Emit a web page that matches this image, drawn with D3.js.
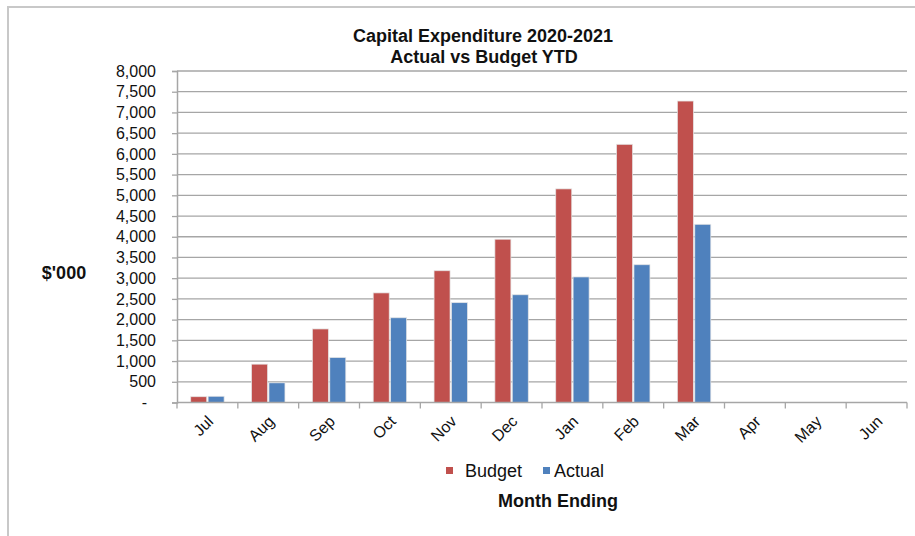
<!DOCTYPE html>
<html>
<head>
<meta charset="utf-8">
<script src="https://d3js.org/d3.v7.min.js"></script>
<style>
  body { margin: 0; background: #fff; }
  text { font-family: "Liberation Sans", Arial, sans-serif; fill: #111; }
</style>
</head>
<body>
<script>
// chart data ($'000 YTD)
var months = ["Jul", "Aug", "Sep", "Oct", "Nov", "Dec", "Jan", "Feb", "Mar", "Apr", "May", "Jun"];
var budget = [140, 925, 1775, 2645, 3180, 3940, 5155, 6230, 7275, null, null, null];
var actual = [150, 475, 1085, 2045, 2410, 2600, 3030, 3325, 4300, null, null, null];
var seriesNames = ["Budget", "Actual"];
var seriesColors = ["#C0504D", "#4F81BD"];
var yTicks = d3.range(0, 8001, 500);

var width = 915, height = 536;
var plotLeft = 177, plotRight = 907, plotTop = 71, plotBottom = 402.5;

var svg = d3.select("body").append("svg")
    .attr("width", width)
    .attr("height", height);

// outer frame
svg.append("rect")
    .attr("x", 8).attr("y", 7)
    .attr("width", 920).attr("height", 540)
    .attr("fill", "none")
    .attr("stroke", "#c8c8c8")
    .attr("stroke-width", 2);

var x = d3.scaleBand().domain(months).range([plotLeft, plotRight]).padding(0);
var cw = x.bandwidth();
var x1 = d3.scaleBand().domain(seriesNames)
    .range([cw / 2 - 16.7, cw / 2 + 16.7])
    .paddingInner(0.08);
var y = d3.scaleLinear().domain([0, 8000]).range([plotBottom, plotTop]);

// gridlines
svg.append("g").selectAll("line")
    .data(yTicks.filter(function (d) { return d > 0; }))
    .enter().append("line")
    .attr("x1", plotLeft).attr("x2", plotRight)
    .attr("y1", function (d) { return y(d); })
    .attr("y2", function (d) { return y(d); })
    .attr("stroke", "#a6a6a6")
    .attr("stroke-width", 1.3);

// y axis
var yAxis = d3.axisLeft(y)
    .tickValues(yTicks)
    .tickSize(5)
    .tickPadding(16)
    .tickFormat(function (d) { return d === 0 ? "-" : d3.format(",")(d); });
var gy = svg.append("g").attr("transform", "translate(" + plotLeft + ",0)").call(yAxis);
gy.select(".domain").attr("stroke", "#a6a6a6").attr("stroke-width", 1.5);
gy.selectAll(".tick line").attr("stroke", "#a6a6a6").attr("stroke-width", 1.3);
gy.selectAll(".tick text")
    .style("font-family", "Liberation Sans, Arial, sans-serif")
    .style("font-size", "16px")
    .attr("fill", "#222")
    .attr("dx", function (d) { return d === 0 ? -9 : 0; });

// bars
var rows = months.map(function (m, i) { return { month: m, vals: [budget[i], actual[i]] }; });
var groups = svg.append("g").selectAll("g")
    .data(rows)
    .enter().append("g")
    .attr("transform", function (d) { return "translate(" + x(d.month) + ",0)"; });

groups.selectAll("rect")
    .data(function (d) {
      return d.vals.map(function (v, k) { return { key: seriesNames[k], value: v, k: k }; })
        .filter(function (e) { return e.value != null; });
    })
    .enter().append("rect")
    .attr("x", function (d) { return x1(d.key); })
    .attr("width", x1.bandwidth())
    .attr("y", function (d) { return y(d.value); })
    .attr("height", function (d) { return y(0) - y(d.value); })
    .attr("fill", function (d) { return seriesColors[d.k]; })
    .attr("stroke", "rgba(230,230,230,0.9)")
    .attr("stroke-width", 0.8);

// x axis with ticks at category edges
var gx = svg.append("g").attr("transform", "translate(0," + plotBottom + ")");
gx.append("line")
    .attr("x1", plotLeft).attr("x2", plotRight)
    .attr("stroke", "#a6a6a6").attr("stroke-width", 1.5);
gx.selectAll(".edge")
    .data(d3.range(months.length + 1))
    .enter().append("line")
    .attr("class", "edge")
    .attr("x1", function (i) { return plotLeft + i * cw; })
    .attr("x2", function (i) { return plotLeft + i * cw; })
    .attr("y1", 0).attr("y2", 6)
    .attr("stroke", "#a6a6a6").attr("stroke-width", 1.3);
gx.selectAll(".lbl")
    .data(months)
    .enter().append("text")
    .attr("class", "lbl")
    .attr("text-anchor", "end")
    .attr("transform", function (d) {
      return "translate(" + (x(d) + cw / 2 - 1) + ",12) rotate(-45)";
    })
    .attr("dy", "0.7em")
    .style("font-size", "16px")
    .text(function (d) { return d; });

// titles
svg.append("text")
    .attr("x", 483).attr("y", 42)
    .attr("text-anchor", "middle")
    .style("font-size", "18px").style("font-weight", "bold")
    .text("Capital Expenditure 2020-2021");
svg.append("text")
    .attr("x", 484).attr("y", 63)
    .attr("text-anchor", "middle")
    .style("font-size", "18px").style("font-weight", "bold")
    .text("Actual vs Budget YTD");

svg.append("text")
    .attr("x", 64).attr("y", 279)
    .attr("text-anchor", "middle")
    .style("font-size", "18px").style("font-weight", "bold")
    .text("$'000");

svg.append("text")
    .attr("x", 558).attr("y", 507)
    .attr("text-anchor", "middle")
    .style("font-size", "18px").style("font-weight", "bold")
    .text("Month Ending");

// legend
var legendX = [446, 543];
var lg = svg.append("g").selectAll("g")
    .data(seriesNames)
    .enter().append("g")
    .attr("transform", function (d, i) { return "translate(" + legendX[i] + ",467)"; });
lg.append("rect")
    .attr("width", 7).attr("height", 7)
    .attr("fill", function (d, i) { return seriesColors[i]; });
lg.append("text")
    .attr("x", function (d, i) { return i === 0 ? 19 : 11; })
    .attr("y", 10)
    .style("font-size", "18px")
    .text(function (d) { return d; });
</script>
</body>
</html>
